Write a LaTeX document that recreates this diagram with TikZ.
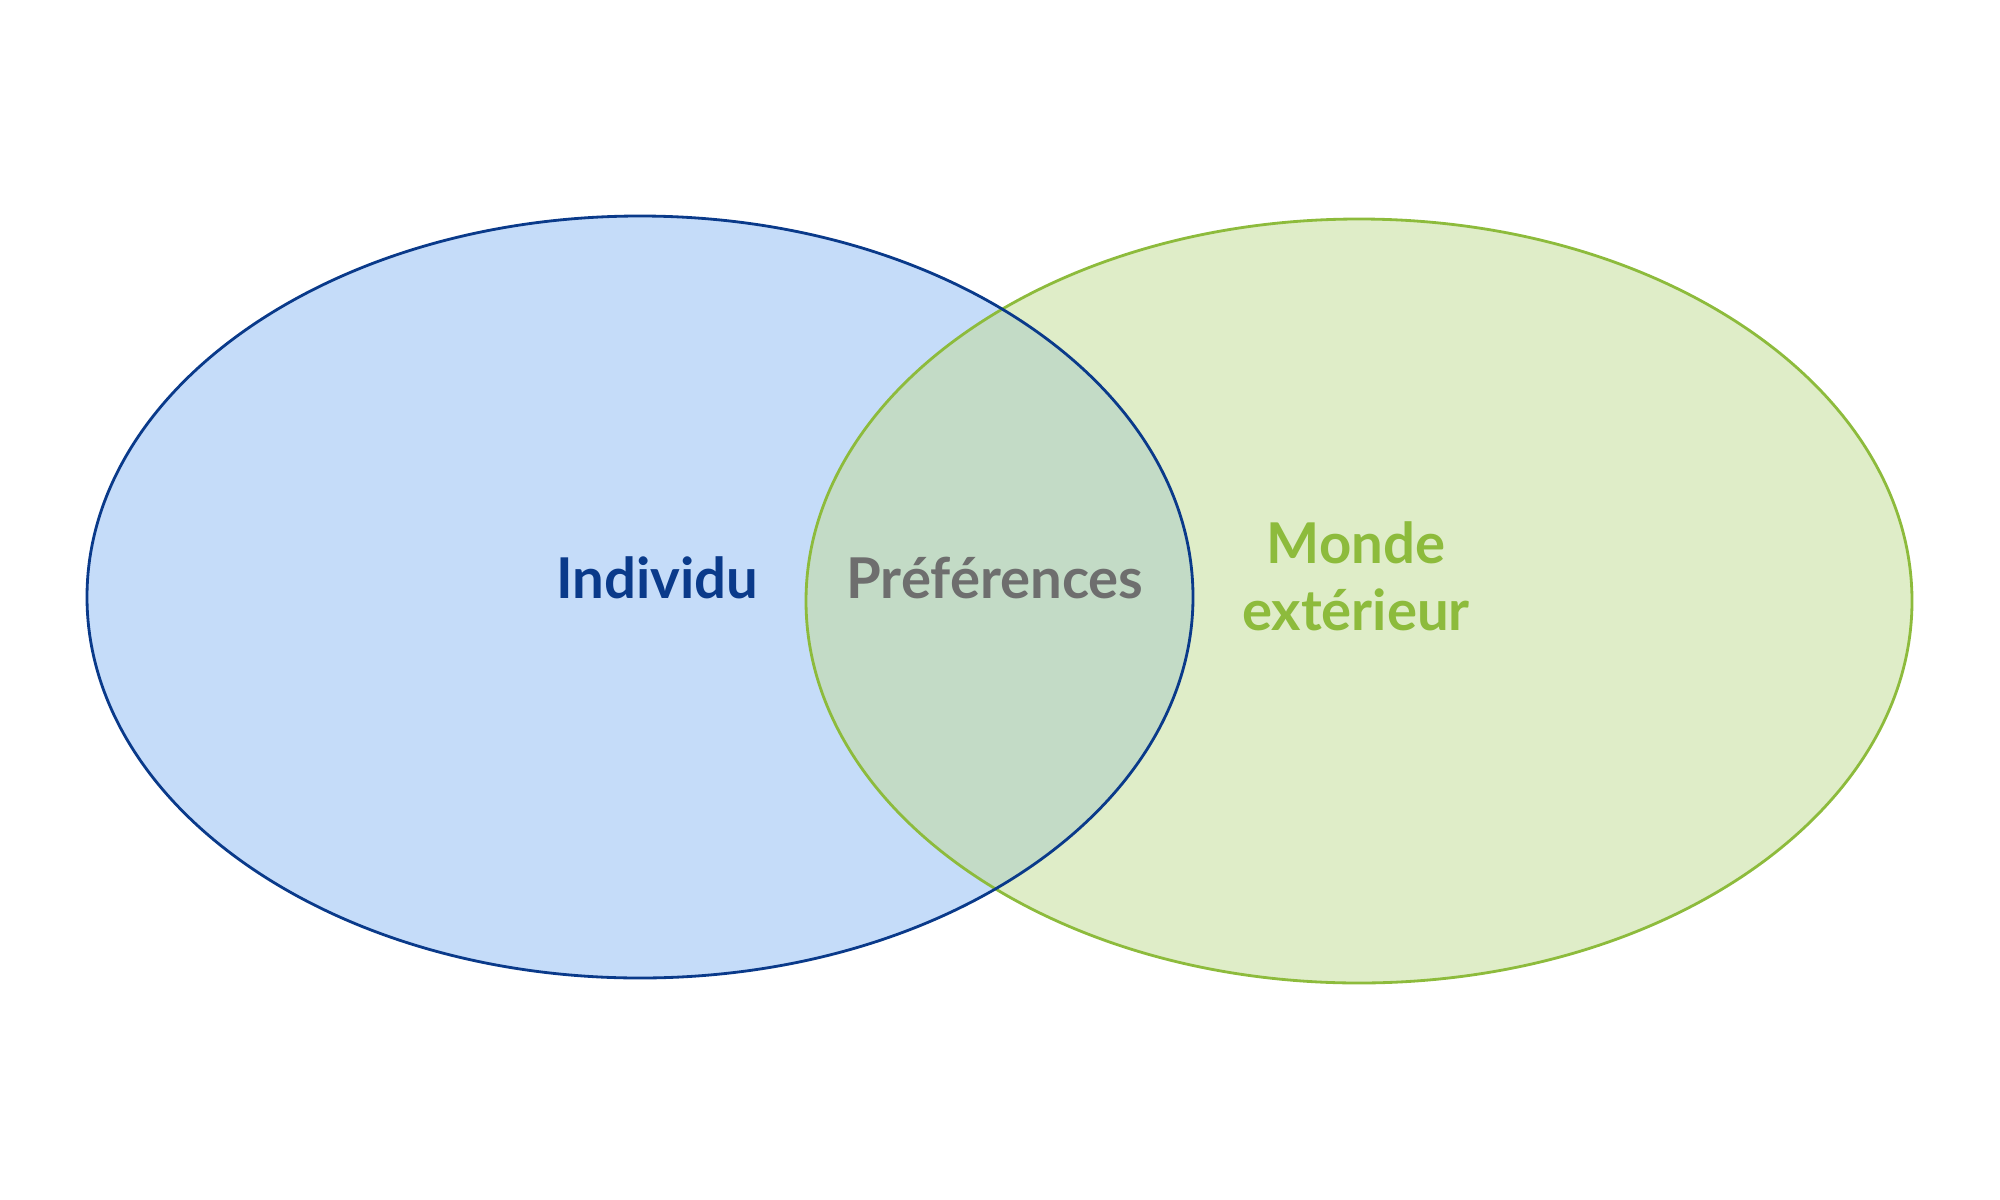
\documentclass[tikz,border=0pt]{standalone}
\usepackage{fontspec}
\setmainfont{Lato}
\definecolor{bluefill}{HTML}{C5DCF9}
\definecolor{greenfill}{HTML}{DFEDC8}
\definecolor{midfill}{HTML}{C3DBC6}
\definecolor{blueline}{HTML}{0A3A8A}
\definecolor{greenline}{HTML}{8DBB3C}
\definecolor{greytext}{HTML}{6E6E6E}
\tikzset{lbl/.style={font=\fontsize{16}{19}\selectfont\bfseries, align=center}}
\begin{document}
\begin{tikzpicture}[x=0.01cm,y=-0.01cm]
\useasboundingbox (0,0) rectangle (2000,1200);
\fill[bluefill] (640,597) ellipse [x radius=553, y radius=381];
\fill[greenfill] (1359,601) ellipse [x radius=553, y radius=382];
\begin{scope}
\clip (640,597) ellipse [x radius=553, y radius=381];
\fill[midfill] (1359,601) ellipse [x radius=553, y radius=382];
\end{scope}
\draw[greenline, line width=0.8pt] (1359,601) ellipse [x radius=553, y radius=382];
\draw[blueline, line width=0.8pt] (640,597) ellipse [x radius=553, y radius=381];
\node[lbl, text=blueline] (ind) at (657,578) {Individu};
\node[lbl, text=greytext] (pref) at (995,578) {Préférences};
\node[lbl, text=greenline] (monde) at (1356,576) {Monde\\extérieur};
\end{tikzpicture}
\end{document}
